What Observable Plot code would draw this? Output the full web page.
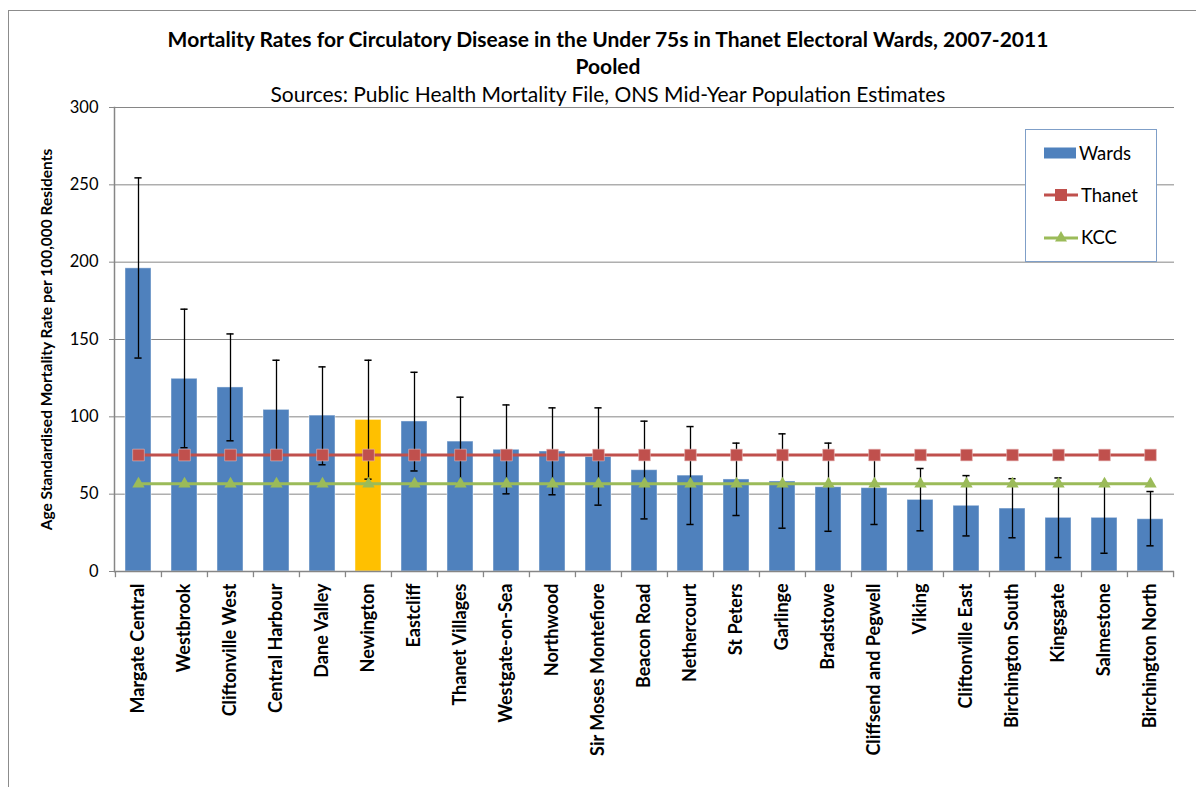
<!DOCTYPE html>
<html>
<head>
<meta charset="utf-8">
<script src="https://cdn.jsdelivr.net/npm/d3@7"></script>
<script src="https://cdn.jsdelivr.net/npm/@observablehq/plot@0.6"></script>
<style>
  html, body { margin: 0; padding: 0; background: #fff; }
  #wrap { position: relative; width: 1196px; height: 787px; overflow: hidden; font-family: Lato, "Open Sans", sans-serif; }
  #frame { position: absolute; left: 8px; top: 10px; width: 1300px; height: 900px; border: 1px solid #8c8c8c; }
  .t { position: absolute; left: 608px; transform: translate(-50%, -50%); white-space: nowrap; color: #000; }
  .tb { font-weight: bold; font-size: 21px; }
  .ts { font-size: 21px; }
  #chart { position: absolute; left: 0; top: 0; }
  #legend { position: absolute; left: 1025px; top: 129px; width: 132px; height: 133px; background: #fff; border: 1px solid #7f9fc8; box-sizing: border-box; }
  .li { position: absolute; left: 18px; height: 22px; display: flex; align-items: center; font-size: 18.5px; }
  .li svg { margin-right: 3px; }
  g[aria-label="y-axis label"] text { font-weight: bold; font-size: 15.5px; }
</style>
</head>
<body>
<div id="wrap">
  <div id="frame"></div>
  <div id="chart"></div>
  <div class="t tb" style="top:38px">Mortality Rates for Circulatory Disease in the Under 75s in Thanet Electoral Wards, 2007-2011</div>
  <div class="t tb" style="top:65px">Pooled</div>
  <div class="t ts" style="top:93px">Sources: Public Health Mortality File, ONS Mid-Year Population Estimates</div>
  <div id="legend"></div>
</div>
<script>
const wards = ["Margate Central","Westbrook","Cliftonville West","Central Harbour","Dane Valley","Newington","Eastcliff","Thanet Villages","Westgate-on-Sea","Northwood","Sir Moses Montefiore","Beacon Road","Nethercourt","St Peters","Garlinge","Bradstowe","Cliffsend and Pegwell","Viking","Cliftonville East","Birchington South","Kingsgate","Salmestone","Birchington North"];
const rates = [196, 124.6, 119, 104.5, 100.8, 98, 97, 84, 78.7, 77.6, 74, 65.5, 62, 59.5, 58.2, 54.5, 53.9, 46.3, 42.5, 40.7, 34.7, 34.7, 33.8];
const lower = [138, 80, 84.5, 74, 69, 59.7, 65, 57, 50.2, 49.6, 42.9, 34, 30.4, 36.2, 28, 26, 30.4, 26.3, 23, 21.8, 9, 11.8, 16.6];
const upper = [254.5, 169.6, 153.6, 136.6, 132.3, 136.6, 128.8, 112.7, 107.7, 105.8, 105.8, 97.2, 93.7, 83, 89, 83, 76, 66.6, 62, 60, 60.5, 57, 51.7];
const thanetRate = 75.3;
const kccRate = 56.7;
const highlighted = ["Newington"];
const yTicks = [0, 50, 100, 150, 200, 250, 300];
const seriesNames = ["Wards", "Thanet", "KCC"];

const blue = "#4F81BD", gold = "#FFC000", red = "#C0504D", green = "#9BBB59", grid = "#868686";

const data = wards.map((w, i) => ({
  ward: w, rate: rates[i], lo: lower[i], hi: upper[i],
  thanet: thanetRate, kcc: kccRate,
  fill: highlighted.includes(w) ? gold : blue
}));

const W = 1196, H = 787, mL = 114, mR = 22, mT = 107, mB = 216;
const step = (W - mL - mR) / wards.length;
const pad = 0.44;
const bw = step * (1 - pad);
const capInset = (bw - 7) / 2;

const chart = Plot.plot({
  width: W, height: H,
  marginLeft: mL, marginRight: mR, marginTop: mT, marginBottom: mB,
  style: { fontFamily: "Lato, 'Open Sans', sans-serif", background: "transparent", color: "#000" },
  x: { domain: wards, paddingInner: pad, paddingOuter: pad / 2, align: 0.5, label: null },
  y: { domain: [0, 300], label: null },
  color: { type: "identity" },
  marks: [
    Plot.gridY(yTicks, { stroke: grid, strokeOpacity: 1 }),
    Plot.barY(data, { x: "ward", y: "rate", fill: "fill", stroke: "#ffffff", strokeOpacity: 0.45, strokeWidth: 1 }),
    Plot.ruleX(data, { x: "ward", y1: "lo", y2: "hi", stroke: "#000", strokeWidth: 1.3 }),
    Plot.tickY(data, { x: "ward", y: "hi", stroke: "#000", strokeWidth: 1.5, insetLeft: capInset, insetRight: capInset }),
    Plot.tickY(data, { x: "ward", y: "lo", stroke: "#000", strokeWidth: 1.5, insetLeft: capInset, insetRight: capInset }),
    Plot.line(data, { x: "ward", y: "thanet", stroke: red, strokeWidth: 3 }),
    Plot.dot(data, { x: "ward", y: "thanet", symbol: "square", r: 6.6, fill: red, stroke: "#e6b9b8", strokeWidth: 0.6 }),
    Plot.line(data, { x: "ward", y: "kcc", stroke: green, strokeWidth: 3 }),
    Plot.dot(data, { x: "ward", y: "kcc", symbol: "triangle", r: 4.6, fill: green }),
    Plot.ruleY([0], { stroke: grid, strokeWidth: 1.5 }),
    Plot.frame({ anchor: "left", stroke: grid, strokeWidth: 1.5 }),
    Plot.ruleX(wards, { x: d => d, dx: -step / 2, y1: 0, y2: -4, stroke: grid, strokeWidth: 1.3 }),
    Plot.ruleX(wards.slice(-1), { x: d => d, dx: step / 2, y1: 0, y2: -4, stroke: grid, strokeWidth: 1.3 }),
    Plot.axisY(yTicks, { tickSize: 5, tickPadding: 11, fontSize: 16.5, stroke: grid,
      label: "Age Standardised Mortality Rate per 100,000 Residents", labelAnchor: "center", labelArrow: "none", labelOffset: 74 }),
    Plot.axisX({ tickSize: 0, tickPadding: 12, tickRotate: -90, fontSize: 18, fontWeight: "bold", label: null })
  ]
});
document.getElementById("chart").appendChild(chart);

// Legend
const legend = document.getElementById("legend");
const tops = [12, 54, 96];
seriesNames.forEach((name, i) => {
  const item = document.createElement("div");
  item.className = "li";
  item.style.top = tops[i] + "px";
  let sw;
  if (i === 0) {
    sw = `<svg width="32" height="12"><rect x="0" y="0.5" width="32" height="11" fill="${blue}"/></svg>`;
  } else if (i === 1) {
    sw = `<svg width="34" height="14"><line x1="0" x2="34" y1="7" y2="7" stroke="${red}" stroke-width="3"/><rect x="11" y="1" width="12" height="12" fill="${red}"/></svg>`;
  } else {
    sw = `<svg width="34" height="14"><line x1="0" x2="34" y1="8" y2="8" stroke="${green}" stroke-width="3"/><path d="M17,1 L23,11.5 L11,11.5 Z" fill="${green}"/></svg>`;
  }
  item.innerHTML = sw + `<span>${name}</span>`;
  legend.appendChild(item);
});
</script>
</body>
</html>
